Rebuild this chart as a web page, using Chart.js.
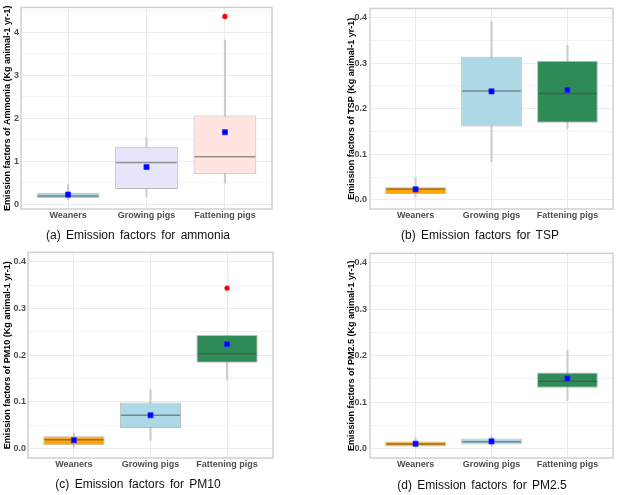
<!DOCTYPE html>
<html><head><meta charset="utf-8">
<script src="https://cdn.jsdelivr.net/npm/chart.js@4.4.0/dist/chart.umd.min.js"></script>
<style>
html,body{margin:0;padding:0;background:#fff;}
#wrap{position:relative;width:618px;height:495px;overflow:hidden;background:#fff;}
canvas{position:absolute;}
.cap{position:absolute;font-family:"Liberation Sans",Arial,sans-serif;font-size:12px;line-height:14px;word-spacing:2px;color:#111;white-space:nowrap;transform:translateX(-50%);}
</style></head><body><div id="wrap">
<canvas id="ca" width="310" height="250" style="left:0;top:0"></canvas>
<canvas id="cb" width="308" height="250" style="left:310px;top:0"></canvas>
<canvas id="cc" width="310" height="250" style="left:0;top:245px"></canvas>
<canvas id="cd" width="308" height="250" style="left:310px;top:245px"></canvas>
<div class="cap" id="capa"></div><div class="cap" id="capb"></div><div class="cap" id="capc"></div><div class="cap" id="capd"></div>
</div>
<script>
// ---------- DATA ----------
const categories = ['Weaners', 'Growing pigs', 'Fattening pigs'];

// (a) Ammonia
const nh3Min    = [0.11, 0.19, 0.495];
const nh3Q1     = [0.145, 0.358, 0.70];
const nh3Median = [0.198, 0.975, 1.11];
const nh3Q3     = [0.274, 1.34, 2.065];
const nh3Max    = [0.46, 1.56, 3.82];
const nh3Mean   = [0.23, 0.87, 1.68];
const nh3Outliers = [[], [], [4.37]];

// (b) TSP
const tspMin    = [0.006, 0.084, 0.157];
const tspQ1     = [0.0129, 0.161, 0.169];
const tspMedian = [0.0238, 0.2386, 0.2336];
const tspQ3     = [0.0279, 0.314, 0.305];
const tspMax    = [0.049, 0.391, 0.339];
const tspMean   = [0.023, 0.238, 0.241];
const tspOutliers = [[], [], []];

// (c) PM10
const pm10Min    = [0.0036, 0.018, 0.147];
const pm10Q1     = [0.0071, 0.044, 0.1836];
const pm10Median = [0.019, 0.0714, 0.203];
const pm10Q3     = [0.0264, 0.099, 0.243];
const pm10Max    = [0.033, 0.126, 0.243];
const pm10Mean   = [0.018, 0.0714, 0.2236];
const pm10Outliers = [[], [], [0.3436]];

// (d) PM2.5
const pm25Min    = [0.003, 0.005, 0.1036];
const pm25Q1     = [0.005, 0.0093, 0.131];
const pm25Median = [0.010, 0.015, 0.145];
const pm25Q3     = [0.0157, 0.022, 0.164];
const pm25Max    = [0.024, 0.027, 0.211];
const pm25Mean   = [0.0107, 0.0157, 0.151];
const pm25Outliers = [[], [], []];

// Axis ticks
const nh3Ticks = [0, 1, 2, 3, 4];
const nh3TickLabels = ['0', '1', '2', '3', '4'];
const nh3MinorTicks = [0.5, 1.5, 2.5, 3.5, 4.5];
const nh3Range = [-0.105, 4.58];
const pmTicks = [0, 0.1, 0.2, 0.3, 0.4];
const pmTickLabels = ['0.0', '0.1', '0.2', '0.3', '0.4'];
const pmMinorTicks = [0.05, 0.15, 0.25, 0.35];
const pmRange = [-0.02, 0.42];

const yTitles = [
  'Emission factors of Ammonia (Kg animal-1 yr-1)',
  'Emission factors of TSP (Kg animal-1 yr-1)',
  'Emission factors of PM10 (Kg animal-1 yr-1)',
  'Emission factors of PM2.5 (Kg animal-1 yr-1)'
];
const captions = [
  '(a) Emission factors for ammonia',
  '(b) Emission factors for TSP',
  '(c) Emission factors for PM10',
  '(d) Emission factors for PM2.5'
];

// ---------- STYLE / LAYOUT ----------
const pastelColors = ['#add8e6', '#e6e6fa', '#ffe4e1'];
const pmColors = ['#ffa500', '#add8e6', '#2e8b57'];

const panels = [
  {canvas:'ca', cap:'capa', capX:138, capY:235, w:310, h:250, plotL:21, plotT:4, plotR:272, plotB:209, padL:0, tickPad:2,
   stats:[nh3Min,nh3Q1,nh3Median,nh3Q3,nh3Max,nh3Mean,nh3Outliers], colors:pastelColors,
   ticks:nh3Ticks, tickLabels:nh3TickLabels, minor:nh3MinorTicks, range:nh3Range, title:yTitles[0], caption:captions[0]},
  {canvas:'cb', cap:'capb', capX:480, capY:235, w:308, h:250, plotL:60, plotT:4, plotR:303, plotB:209, padL:34, tickPad:3,
   stats:[tspMin,tspQ1,tspMedian,tspQ3,tspMax,tspMean,tspOutliers], colors:pmColors,
   ticks:pmTicks, tickLabels:pmTickLabels, minor:pmMinorTicks, range:pmRange, title:yTitles[1], caption:captions[1]},
  {canvas:'cc', cap:'capc', capX:138, capY:484, w:310, h:250, plotL:28, plotT:7, plotR:273, plotB:213, padL:0, tickPad:2,
   stats:[pm10Min,pm10Q1,pm10Median,pm10Q3,pm10Max,pm10Mean,pm10Outliers], colors:pmColors,
   ticks:pmTicks, tickLabels:pmTickLabels, minor:pmMinorTicks, range:pmRange, title:yTitles[2], caption:captions[2]},
  {canvas:'cd', cap:'capd', capX:482, capY:485, w:308, h:250, plotL:60, plotT:7, plotR:303, plotB:213, padL:34, tickPad:3,
   stats:[pm25Min,pm25Q1,pm25Median,pm25Q3,pm25Max,pm25Mean,pm25Outliers], colors:pmColors,
   ticks:pmTicks, tickLabels:pmTickLabels, minor:pmMinorTicks, range:pmRange, title:yTitles[3], caption:captions[3]}
];

const FONT = '"Liberation Sans", Arial, sans-serif';

function makeChart(p) {
  const [mn, q1, med, q3, mx, mean, outl] = p.stats;
  const xs = categories.map((c, i) => i + 1);
  const whiskerData = xs.map((x, i) => ({x, y: [mn[i], mx[i]]}));
  const boxData = xs.map((x, i) => ({x, y: [q1[i], q3[i]]}));
  const meanData = xs.map((x, i) => ({x, y: mean[i]}));
  const outData = [];
  outl.forEach((arr, i) => arr.forEach(v => outData.push({x: xs[i], y: v})));

  const medianPlugin = {
    id: 'medianLines',
    afterDatasetDraw(chart, args) {
      if (args.index !== 1) return;
      const ctx = chart.ctx, ys = chart.scales.y;
      ctx.save();
      ctx.strokeStyle = 'rgba(70,70,70,0.55)';
      ctx.lineWidth = 1.5;
      args.meta.data.forEach((el, i) => {
        const y = ys.getPixelForValue(med[i]);
        ctx.beginPath();
        ctx.moveTo(el.x - el.width / 2 + 1, y);
        ctx.lineTo(el.x + el.width / 2 - 1, y);
        ctx.stroke();
      });
      ctx.restore();
    }
  };
  const borderPlugin = {
    id: 'panelBorder',
    afterDraw(chart) {
      const a = chart.chartArea, ctx = chart.ctx;
      ctx.save();
      ctx.strokeStyle = '#d0d0d0';
      ctx.lineWidth = 1.5;
      ctx.strokeRect(a.left, a.top, a.right - a.left, a.bottom - a.top);
      ctx.restore();
    }
  };
  const allY = p.ticks.concat(p.minor).sort((a, b) => a - b);

  document.getElementById(p.cap).textContent = p.caption;
  const capEl = document.getElementById(p.cap);
  capEl.style.left = p.capX + 'px';
  capEl.style.top = (p.capY - 7) + 'px';

  return new Chart(document.getElementById(p.canvas), {
    type: 'bar',
    data: {
      datasets: [
        {type: 'bar', data: whiskerData, backgroundColor: '#cdcdcd', borderWidth: 0, barThickness: 1.5, grouped: false, order: 3},
        {type: 'bar', data: boxData, backgroundColor: p.colors, borderColor: 'rgba(150,150,150,0.65)', borderWidth: 1,
         borderSkipped: false, grouped: false, categoryPercentage: 1, barPercentage: 0.8, order: 2},
        {type: 'scatter', data: meanData, pointStyle: 'rect', pointRadius: 3.6, backgroundColor: '#0000ff',
         borderColor: '#2b2bff', borderWidth: 0.8, order: 1},
        {type: 'scatter', data: outData, pointStyle: 'circle', pointRadius: 2.6, backgroundColor: '#ff0000',
         borderColor: '#ff0000', borderWidth: 0, order: 0}
      ]
    },
    options: {
      responsive: false, animation: false, events: [],
      layout: {padding: {left: p.padL, top: p.plotT, right: p.w - p.plotR, bottom: 0}},
      plugins: {legend: {display: false}, tooltip: {enabled: false}, title: {display: false}},
      scales: {
        x: {
          type: 'linear', min: 0.4, max: 3.6, offset: false,
          grid: {offset: false, color: '#ebebeb', lineWidth: 1, drawTicks: false},
          border: {display: false},
          afterBuildTicks: s => { s.ticks = xs.map(v => ({value: v})); },
          afterFit: s => { s.height = p.h - p.plotB; },
          ticks: {autoSkip: false, maxRotation: 0, padding: 1, color: '#4d4d4d',
                  font: {family: FONT, size: 9, weight: 'bold'},
                  callback: v => categories[Math.round(v) - 1]}
        },
        y: {
          type: 'linear', min: p.range[0], max: p.range[1],
          grid: {drawTicks: false, lineWidth: 1,
                 color: c => (c.tick && p.ticks.includes(c.tick.value)) ? '#ebebeb' : '#f3f3f3'},
          border: {display: false},
          afterBuildTicks: s => { s.ticks = allY.map(v => ({value: v})); },
          afterFit: s => { s.width = p.plotL - p.padL; },
          title: {display: true, text: p.title, color: '#000', padding: {top: 2, bottom: 0},
                  font: {family: FONT, size: 9, weight: 'bold'}},
          ticks: {autoSkip: false, padding: p.tickPad, color: '#4d4d4d',
                  font: {family: FONT, size: 9, weight: 'bold'},
                  callback: v => { const k = p.ticks.indexOf(v); return k >= 0 ? p.tickLabels[k] : ''; }}
        }
      }
    },
    plugins: [medianPlugin, borderPlugin]
  });
}
panels.forEach(makeChart);
</script>
</body></html>
